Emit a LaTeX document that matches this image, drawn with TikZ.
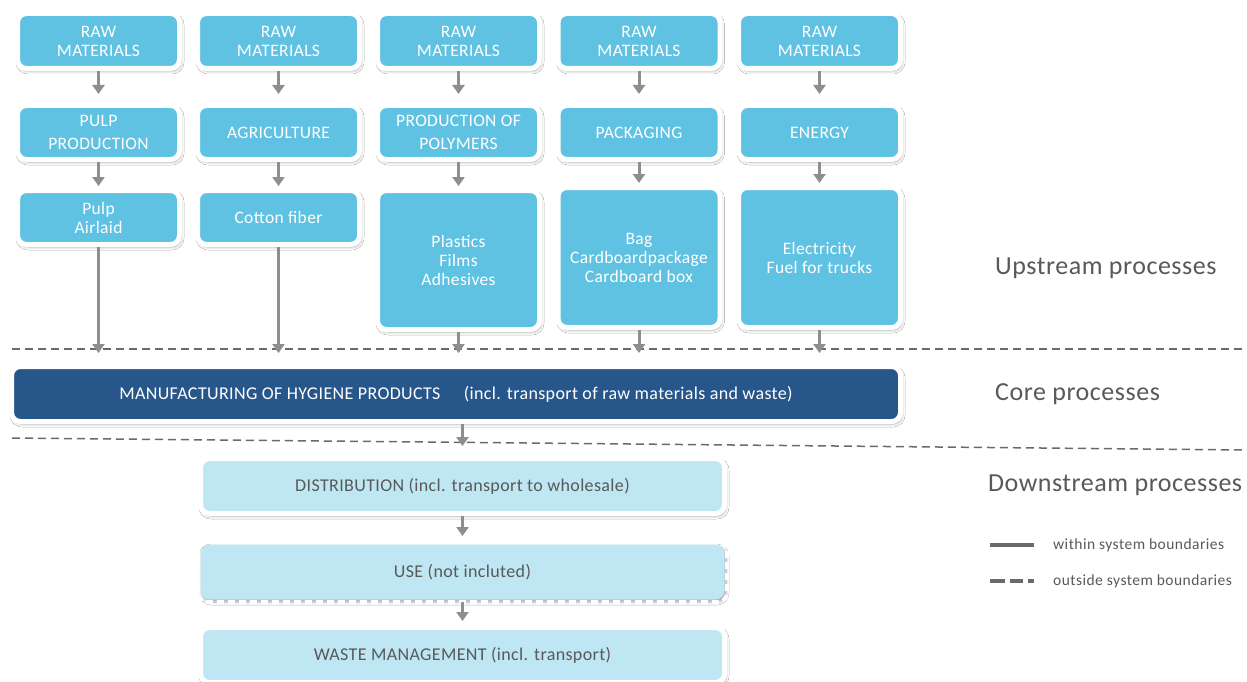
\documentclass[tikz,border=0pt]{standalone}
\usepackage{fontspec}
\setmainfont{Carlito}
\usetikzlibrary{shadows.blur,arrows.meta}
\definecolor{boxblue}{HTML}{60C2E2}
\definecolor{lightbox}{HTML}{BEE6F3}
\definecolor{coreblue}{HTML}{27568B}
\definecolor{arrowgray}{HTML}{8E8E8E}
\definecolor{linegray}{HTML}{6A6A6A}
\definecolor{textgray}{HTML}{595959}
\tikzset{
  softshadow/.style={blur shadow={shadow xshift=1.5pt, shadow yshift=-2.5pt,
      shadow blur radius=3pt, shadow opacity=35}},
  procbox/.style={draw=white, line width=5pt, rounded corners=9pt, align=center,
      inner sep=0pt, softshadow},
  upbox/.style={procbox, fill=boxblue, text=white, minimum width=162pt,
      font=\fontsize{17.5}{19}\selectfont\addfontfeature{LetterSpace=2}},
  widelines/.style={font=\fontsize{17.5}{23}\selectfont\addfontfeature{LetterSpace=2}},
  corebox/.style={procbox, fill=coreblue, text=white, minimum width=889pt,
      minimum height=55pt, font=\fontsize{18}{20}\selectfont\addfontfeature{LetterSpace=2}},
  downbox/.style={procbox, fill=lightbox, text=textgray, minimum width=524pt,
      minimum height=55pt, font=\fontsize{18}{20}\selectfont\addfontfeature{LetterSpace=2}},
  flow/.style={draw=arrowgray, line width=3pt,
      -{Triangle[width=12pt,length=9pt]}},
  boundary/.style={draw=linegray, line width=1.5pt, dash pattern=on 8pt off 5pt},
  phase/.style={anchor=west, text=textgray, inner sep=0pt,
      font=\fontsize{26}{30}\selectfont\addfontfeature{LetterSpace=2}},
  legendtext/.style={anchor=west, text=textgray, inner sep=0pt,
      font=\fontsize{15.5}{17}\selectfont\addfontfeature{LetterSpace=3}},
  legendline/.style={draw=linegray, line width=4pt},
}
\begin{document}
\begin{tikzpicture}[x=1pt,y=-1pt]
  \useasboundingbox (0,0) rectangle (1247,682);
  \fill[white] (0,0) rectangle (1247,682);

  % system boundary lines
  \draw[boundary] (12,349) -- (1247,349);
  \draw[boundary] (12,438) -- (1247,450);

  % raw materials row
  \foreach \n/\x in {1/98.5,2/278.5,3/458.5,4/639,5/819.5}
    \node[upbox, minimum height=55pt] (raw\n) at (\x,41) {RAW\\MATERIALS};

  % intermediate processes
  \node[upbox, widelines, minimum height=54pt] (pulp) at (98.5,132.5) {PULP\\PRODUCTION};
  \node[upbox, minimum height=54pt] (agri) at (278.5,132.5) {AGRICULTURE};
  \node[upbox, widelines, minimum height=54pt] (poly) at (458.5,132.5) {PRODUCTION OF\\POLYMERS};
  \node[upbox, minimum height=54pt] (pack) at (639,132.5) {PACKAGING};
  \node[upbox, minimum height=54pt] (ener) at (819.5,132.5) {ENERGY};

  % products
  \node[upbox, minimum height=54pt] (airlaid) at (98.5,217.5) {Pulp\\Airlaid};
  \node[upbox, minimum height=54pt] (cotton) at (278.5,217.5) {Cotton fiber};
  \node[upbox, minimum height=139pt] (plast) at (458.5,260) {Plastics\\Films\\Adhesives};
  \node[upbox, minimum height=140pt] (bag) at (639,257.5) {Bag\\Cardboardpackage\\Cardboard box};
  \node[upbox, minimum height=140pt] (elec) at (819.5,257.5) {Electricity\\Fuel for trucks};

  % core and downstream
  \node[corebox] (manu) at (456,394)
    {MANUFACTURING OF HYGIENE PRODUCTS\hspace{1.3em}(incl. transport of raw materials and waste)};
  \node[downbox] (dist) at (462.5,486) {DISTRIBUTION (incl. transport to wholesale)};
  \node[downbox, draw=none] (use) at (462.5,572) {USE (not incluted)};
  \draw[white, line width=4pt, dash pattern=on 7pt off 4pt, rounded corners=9pt]
    (use.north west) rectangle (use.south east);
  \node[downbox] (waste) at (462.5,655) {WASTE MANAGEMENT (incl. transport)};

  % flows
  \foreach \a/\b in {raw1/pulp,raw2/agri,raw3/poly,raw4/pack,raw5/ener}
    \draw[flow, shorten >=9pt] (\a.south) -- (\b.north);
  \foreach \a/\b in {pulp/airlaid,agri/cotton,poly/plast,pack/bag,ener/elec}
    \draw[flow, shorten >=2pt] (\a.south) -- (\b.north);
  \foreach \a in {airlaid,cotton,plast,bag,elec}
    \draw[flow, shorten >=11pt] (\a.south) -- (\a.south |- manu.north);
  \draw[flow, shorten >=10pt] (manu.south -| dist.north) -- (dist.north);
  \draw[flow, shorten >=6pt] (dist.south) -- (use.north);
  \draw[flow, shorten >=4pt] (use.south) -- (waste.north);

  % phase labels
  \node[phase] (up) at (995,268) {Upstream processes};
  \node[phase] (core) at (995,394) {Core processes};
  \node[phase] (down) at (988,485) {Downstream processes};

  % legend
  \coordinate (l1a) at (990,545); \coordinate (l1b) at (1034,545);
  \coordinate (l2a) at (990,581); \coordinate (l2b) at (1034,581);
  \draw[legendline] (l1a) -- (l1b);
  \draw[legendline, dash pattern=on 15pt off 5pt on 13pt off 5pt on 6pt off 10pt] (l2a) -- (l2b);
  \node[legendtext] (within) at (1053,545) {within system boundaries};
  \node[legendtext] (outside) at (1053,581) {outside system boundaries};
\end{tikzpicture}
\end{document}
